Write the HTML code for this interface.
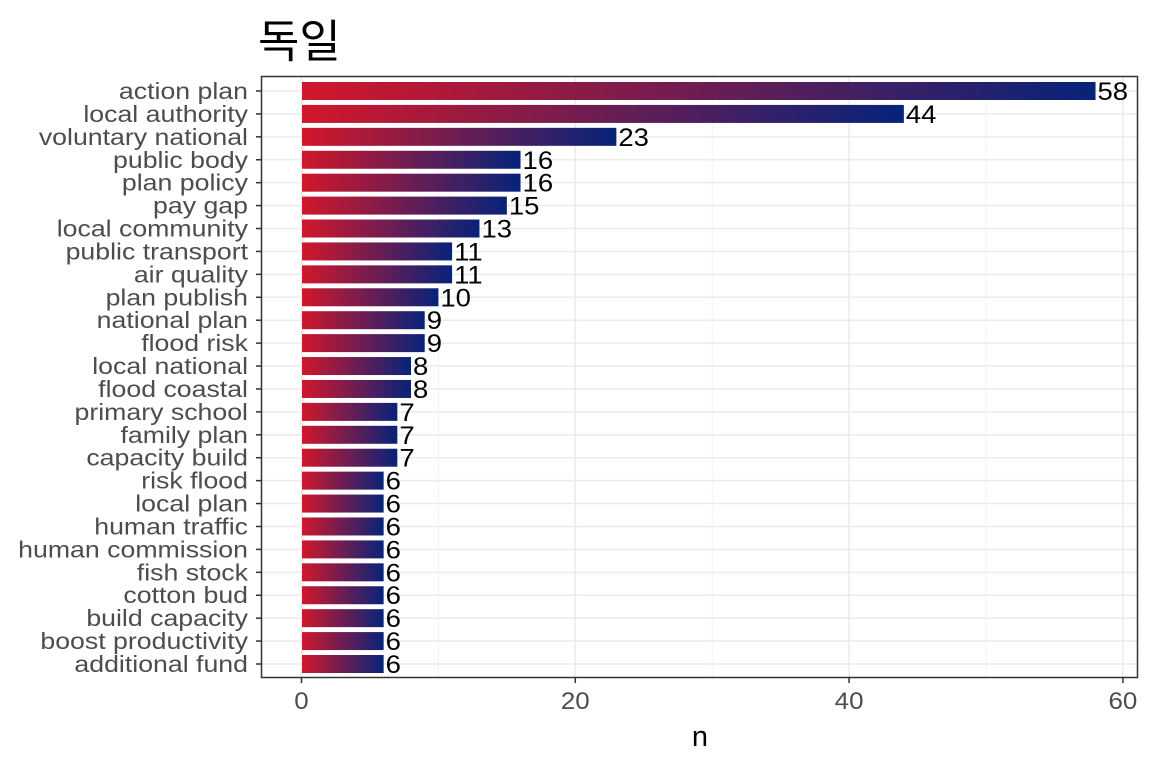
<!DOCTYPE html>
<html><head><meta charset="utf-8"><style>
body{margin:0;background:#fff;}
svg text{font-family:"Liberation Sans","Noto Sans CJK KR",sans-serif;}
</style></head><body>
<svg id="chart" width="1152" height="768" xmlns="http://www.w3.org/2000/svg">
<defs><linearGradient id="g" x1="0" x2="1" y1="0" y2="0"><stop offset="0" stop-color="#d2172b"/><stop offset="1" stop-color="#06237a"/></linearGradient></defs>
<text x="258" y="57" font-size="45" fill="#000">독일</text>
<g id="grid"></g>
<g id="bars"></g>
<rect x="261.5" y="76.5" width="876" height="601" fill="none" stroke="#333" stroke-width="1.5"/>
<g id="axes"></g>
<text x="700" y="746" font-size="29" text-anchor="middle" fill="#000">n</text>
</svg>
<script>
const categories=["action plan","local authority","voluntary national","public body","plan policy","pay gap","local community","public transport","air quality","plan publish","national plan","flood risk","local national","flood coastal","primary school","family plan","capacity build","risk flood","local plan","human traffic","human commission","fish stock","cotton bud","build capacity","boost productivity","additional fund"];
const values=[58,44,23,16,16,15,13,11,11,10,9,9,8,8,7,7,7,6,6,6,6,6,6,6,6,6];
const xTicks=[0,20,40,60];
const NS="http://www.w3.org/2000/svg";
const x=v=>301.5+v*13.69;
const y=i=>91+i*22.92;
function mk(tag,attrs,parent){const e=document.createElementNS(NS,tag);for(const k in attrs)e.setAttribute(k,attrs[k]);document.getElementById(parent).appendChild(e);return e;}
function stretch(t,f){const w=t.getComputedTextLength();t.setAttribute('textLength',w*f);t.setAttribute('lengthAdjust','spacingAndGlyphs');}
const grid='grid',bars='bars',axes='axes';
[10,30,50].forEach(v=>{const l=mk('line',{x1:x(v),x2:x(v),y1:77,y2:677,stroke:'#f2f2f2','stroke-width':1},grid);

});
xTicks.forEach(v=>{const l=mk('line',{x1:x(v),x2:x(v),y1:77,y2:677,stroke:'#ebebeb','stroke-width':1.5},grid);


const t=mk('line',{x1:x(v),x2:x(v),y1:678,y2:683,stroke:'#333','stroke-width':1.5},axes);


const tx=mk('text',{x:x(v),y:709,'font-size':24,'text-anchor':'middle',fill:'#4d4d4d'},axes);tx.textContent=v;


stretch(tx,1.08);});
categories.forEach((c,i)=>{const l=mk('line',{x1:262,x2:1137,y1:y(i),y2:y(i),stroke:'#ebebeb','stroke-width':1.5},grid);


const r=mk('rect',{x:x(0)+0.5,y:y(i)-9,width:x(values[i])-x(0)-0.5,height:18,fill:'url(#g)'},bars);


const vt=mk('text',{x:x(values[i])+2,y:y(i)+9,'font-size':25,fill:'#000'},bars);vt.textContent=values[i];


stretch(vt,1.1);
const t=mk('line',{x1:256,x2:261,y1:y(i),y2:y(i),stroke:'#333','stroke-width':1.5},axes);


const ct=mk('text',{x:248,y:y(i)+8,'font-size':23,'text-anchor':'end',fill:'#4d4d4d'},axes);ct.textContent=c;


stretch(ct,1.16);});
</script>
</body></html>
